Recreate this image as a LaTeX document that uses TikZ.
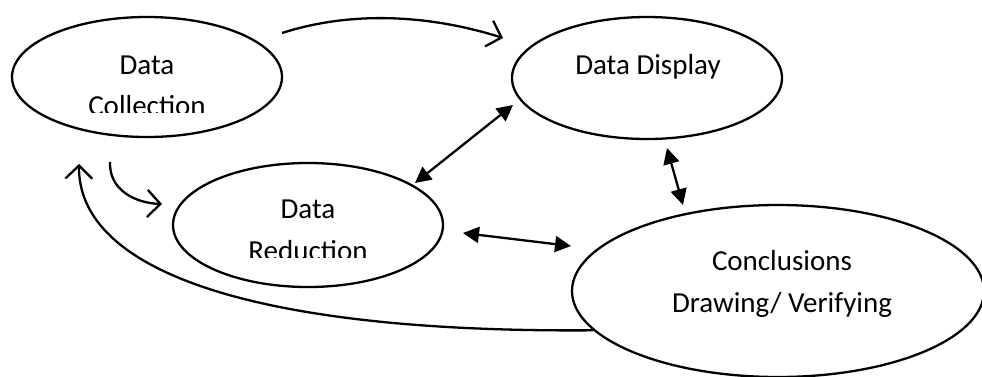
\documentclass[tikz,border=0pt]{standalone}
\usepackage{fontspec}
\setmainfont{Carlito}
\usetikzlibrary{shapes.geometric,arrows.meta}

\begin{document}
\begin{tikzpicture}[x=1pt,y=-1pt,
        blob/.style={ellipse,draw,line width=2.3pt,inner sep=0pt,minimum width=270pt,minimum height=122pt},
        lbl/.style={anchor=base,inner sep=0pt,font=\fontsize{29}{35}\selectfont},
        curvy/.style={line width=2.3pt,-{Straight Barb[length=13pt,width=27pt]}},
        twoway/.style={line width=2.3pt,{Triangle[length=16pt,width=16pt]}-{Triangle[length=16pt,width=16pt]}}]
            		\useasboundingbox (0,0) rectangle (982,376);

            		\node (a) at (147,77) [blob,minimum height=120pt] {};
            		\node (a1) [lbl] at ([yshift=3pt]a.center) {Data};
            		\begin{scope}
            		\clip (60,80) rectangle (240,112);
            		\node (a2) [lbl] at ([yshift=-38pt]a.center) {Collection};
            		\end{scope}

            		\node (d) at (647,78) [blob] {};
            		\node (d1) [lbl] at ([xshift=1pt,yshift=4pt]d.center) {Data Display};

            		\node (b) at (308,225) [blob,minimum height=124pt] {};
            		\node (b1) [lbl] at ([yshift=7pt]b.center) {Data};
            		\begin{scope}
            		\clip (220,225) rectangle (400,257);
            		\node (b2) [lbl] at ([yshift=-35pt]b.center) {Reduction};
            		\end{scope}

            		\node (c) at (778,291) [blob,minimum width=412pt,minimum height=172pt] {};
            		\node (c1) [lbl] at ([xshift=4pt,yshift=21pt]c.center) {Conclusions};
            		\node (c2) [lbl] at ([xshift=4pt,yshift=-21pt]c.center) {Drawing/ Verifying};

            		% free ends of the connectors
            		\coordinate (ad0) at (282,33);
            		\coordinate (ad1) at (503,38);
            		\coordinate (ab0) at (110,162);
            		\coordinate (ab1) at (162,204);
            		\coordinate (ca1) at (79,164);
            		\coordinate (db0) at (513,105);
            		\coordinate (db1) at (415,183);
            		\coordinate (dc0) at (667,148);
            		\coordinate (dc1) at (683,205);
            		\coordinate (bc0) at (463,233);
            		\coordinate (bc1) at (571,246);

            		\draw [curvy] (ad0) .. controls (360,8) and (440,18) .. (ad1);
            		\draw [curvy] (ab0) .. controls (109,190) and (135,203) .. (ab1);
            		\draw [curvy] (c.192) .. controls (250,333) and (78,270) .. (ca1);
            		\draw [twoway] (db0) -- (db1);
            		\draw [twoway] (dc0) -- (dc1);
            		\draw [twoway] (bc0) -- (bc1);
        		\end{tikzpicture}
\end{document}
